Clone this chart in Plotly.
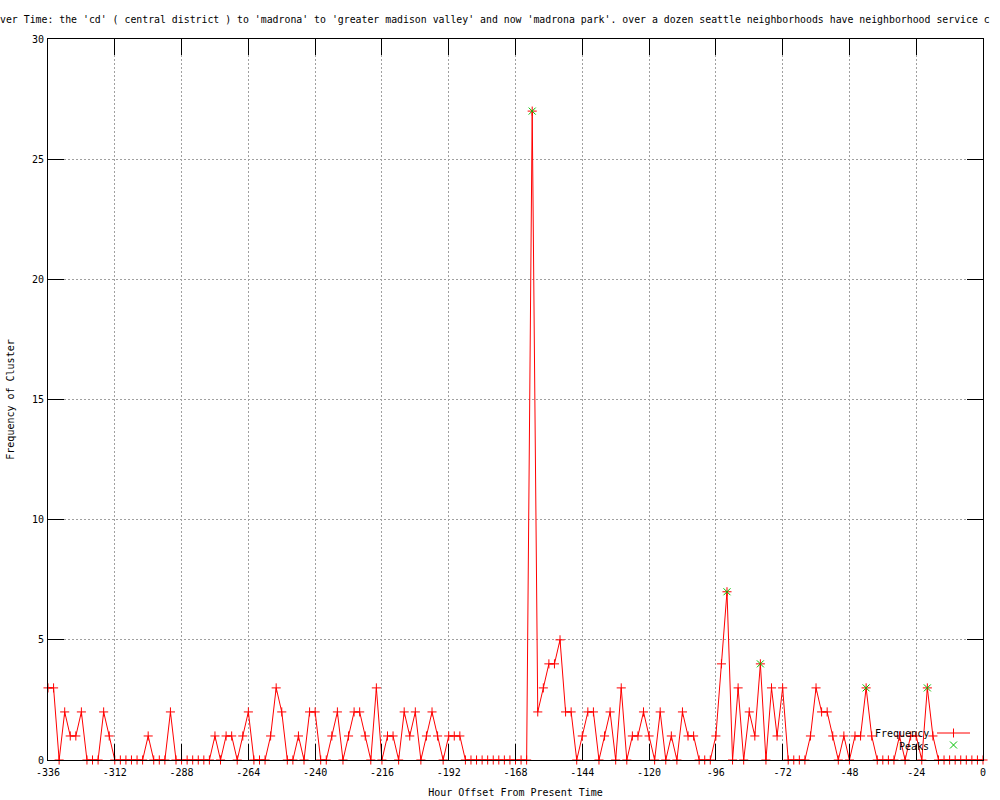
import plotly.graph_objects as go

# ---- data ----
hours = list(range(-336, 1, 2))
frequency = [
    3, 3, 0, 2, 1, 1, 2, 0, 0, 0,          # -336 .. -318
    2, 1, 0, 0, 0, 0, 0, 0, 1, 0,          # -316 .. -298
    0, 0, 2, 0, 0, 0, 0, 0, 0, 0,          # -296 .. -278
    1, 0, 1, 1, 0, 1, 2, 0, 0, 0,          # -276 .. -258
    1, 3, 2, 0, 0, 1, 0, 2, 2, 0,          # -256 .. -238
    0, 1, 2, 0, 1, 2, 2, 1, 0, 3,          # -236 .. -218
    0, 1, 1, 0, 2, 1, 2, 0, 1, 2,          # -216 .. -198
    1, 0, 1, 1, 1, 0, 0, 0, 0, 0,          # -196 .. -178
    0, 0, 0, 0, 0, 0, 0, 27, 2, 3,         # -176 .. -158
    4, 4, 5, 2, 2, 0, 1, 2, 2, 0,          # -156 .. -138
    1, 2, 0, 3, 0, 1, 1, 2, 1, 0,          # -136 .. -118
    2, 0, 1, 0, 2, 1, 1, 0, 0, 0,          # -116 .. -98
    1, 4, 7, 0, 3, 0, 2, 1, 4, 0,          # -96 .. -78
    3, 1, 3, 0, 0, 0, 0, 1, 3, 2,          # -76 .. -58
    2, 1, 0, 1, 0, 1, 1, 3, 1, 0,          # -56 .. -38
    0, 0, 0, 1, 0, 1, 1, 0, 3, 1,          # -36 .. -18
    0, 0, 0, 0, 0, 0, 0, 0, 0,             # -16 .. 0
]
peak_hours = [-162, -92, -80, -42, -20]
peak_values = [27, 7, 4, 3, 3]

x_ticks = list(range(-336, 1, 24))
y_ticks = list(range(0, 31, 5))

title_text = ("ver Time: the 'cd' ( central district ) to 'madrona' to 'greater madison valley' "
              "and now 'madrona park'. over a dozen seattle neighborhoods have neighborhood service c")
x_title = "Hour Offset From Present Time"
y_title = "Frequency of Cluster"

# ---- layout geometry (pixels) ----
W, H = 1000, 800
L, R, T, B = 48, 17, 39, 40
PW, PH = W - L - R, H - T - B
MONO = "DejaVu Sans Mono"
RED = "#ff0000"
GREEN = "#00c000"


def px(xp):
    return (xp - L) / PW


def py(yp):
    return (H - B - yp) / PH


fig = go.Figure()
fig.add_trace(go.Scatter(
    x=hours, y=frequency, mode="lines+markers", name="Frequency",
    line=dict(color=RED, width=1),
    marker=dict(symbol="cross-thin", size=6.5, line=dict(color=RED, width=1), color=RED),
    cliponaxis=False, showlegend=False,
))
fig.add_trace(go.Scatter(
    x=peak_hours, y=peak_values, mode="markers", name="Peaks",
    marker=dict(symbol="x-thin", size=7, line=dict(color=GREEN, width=1), color=GREEN),
    cliponaxis=False, showlegend=False,
))

axis_common = dict(
    showline=True, linecolor="black", linewidth=1, mirror="ticks",
    ticks="inside", ticklen=16, tickwidth=1, tickcolor="black",
    showgrid=True, gridcolor="#a0a0a0", gridwidth=1, griddash="2px,2px",
    zeroline=False, automargin=False,
    tickfont=dict(family=MONO, size=10, color="black"),
)

fig.update_layout(
    width=W, height=H,
    margin=dict(l=L, r=R, t=T, b=B, autoexpand=False),
    paper_bgcolor="white", plot_bgcolor="white",
    font=dict(family=MONO, size=10, color="black"),
    xaxis=dict(range=[-336, 0], tickvals=x_ticks, ticktext=[str(v) for v in x_ticks],
               ticklabelstandoff=3,
               title=dict(text=x_title, font=dict(family=MONO, size=10), standoff=11),
               **axis_common),
    yaxis=dict(range=[0, 30], tickvals=y_ticks, ticktext=[str(v) for v in y_ticks],
               ticklabelstandoff=1,
               title=dict(text=y_title, font=dict(family=MONO, size=10), standoff=15),
               **axis_common),
)

annotations = [
    dict(text=title_text, xref="paper", yref="paper", x=px(-2.5), y=py(19),
         xanchor="left", yanchor="middle", showarrow=False,
         font=dict(family=MONO, size=9.85, color="black")),
    dict(text="Frequency", xref="paper", yref="paper", x=px(931), y=py(733),
         xanchor="right", yanchor="middle", showarrow=False,
         font=dict(family=MONO, size=10, color="black")),
    dict(text="Peaks", xref="paper", yref="paper", x=px(931), y=py(746),
         xanchor="right", yanchor="middle", showarrow=False,
         font=dict(family=MONO, size=10, color="black")),
]
fig.update_layout(annotations=annotations)

# legend samples (gnuplot style: text left, sample right)
shapes = [
    dict(type="line", xref="paper", yref="paper", x0=px(937), x1=px(970), y0=py(733), y1=py(733),
         line=dict(color=RED, width=1)),
    dict(type="line", xref="paper", yref="paper", x0=px(953.5), x1=px(953.5), y0=py(728.5), y1=py(737.5),
         line=dict(color=RED, width=1)),
    dict(type="line", xref="paper", yref="paper", x0=px(950), x1=px(957), y0=py(741.5), y1=py(748.5),
         line=dict(color=GREEN, width=1)),
    dict(type="line", xref="paper", yref="paper", x0=px(950), x1=px(957), y0=py(748.5), y1=py(741.5),
         line=dict(color=GREEN, width=1)),
]
fig.update_layout(shapes=shapes)

fig.write_html("out.html", config={"displayModeBar": False},
               post_script="document.body.style.margin='0';document.body.style.overflow='hidden';")
